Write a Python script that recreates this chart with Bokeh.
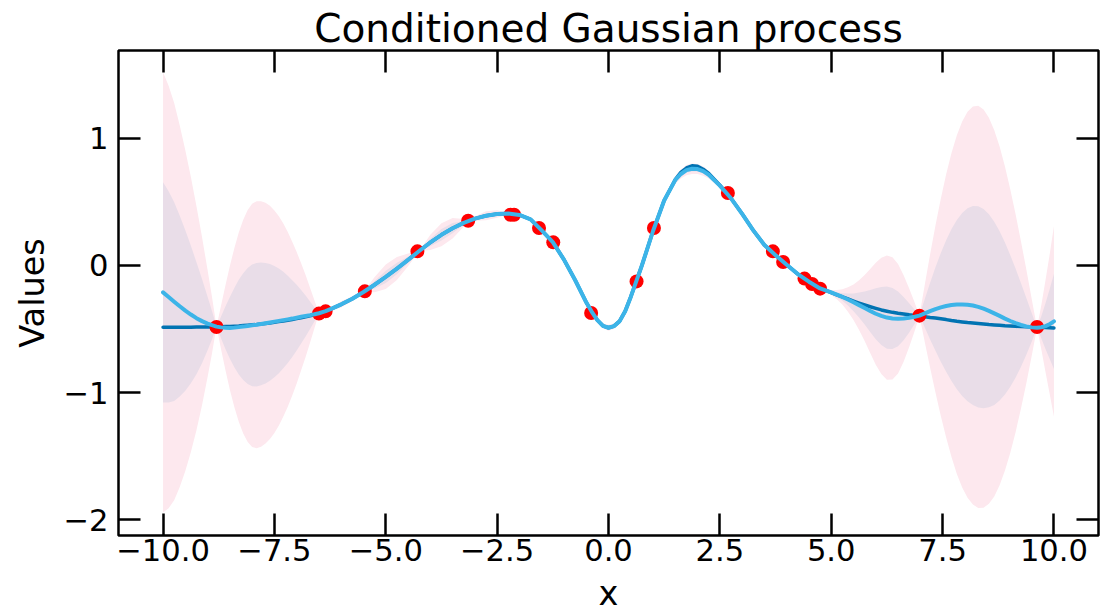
import numpy as np
from bokeh.plotting import figure
from bokeh.models import Range1d, FixedTicker, LinearAxis, CustomJSTickFormatter
from bokeh.embed import file_html
from bokeh.resources import INLINE

# ---- observations (red dots) ----
obs_x = [-8.80, -6.50, -6.35, -5.47, -4.29, -3.15, -2.20, -2.12, -1.56, -1.24,
         -0.39, 0.63, 1.02, 2.68, 3.69, 3.92, 4.40, 4.57, 4.75, 6.98, 9.62]
obs_y = [-0.484, -0.379, -0.361, -0.204, 0.110, 0.351, 0.398, 0.398, 0.294, 0.181,
         -0.374, -0.126, 0.294, 0.568, 0.110, 0.027, -0.104, -0.146, -0.183, -0.395, -0.484]

# ---- curves on a grid (one row per stretch of x) ----
grid_x = [-10.0, -9.875, -9.75, -9.625, -9.5, -9.375, -9.25, -9.125, -9.0, -8.9, -8.8,
          -8.7, -8.6, -8.5, -8.4, -8.3, -8.2, -8.1, -8.0, -7.9, -7.8, -7.7, -7.6, -7.5, -7.4,
          -7.3, -7.2, -7.1, -7.0, -6.9, -6.8, -6.7, -6.6, -6.5,
          -6.35, -6.2, -6.0, -5.75, -5.5, -5.25, -5.0, -4.75, -4.5, -4.25, -4.0, -3.75,
          -3.5, -3.25, -3.0, -2.75, -2.5, -2.25, -2.0, -1.75, -1.5, -1.25, -1.0, -0.75,
          -0.5, -0.375, -0.25, -0.125, 0.0, 0.125, 0.25, 0.375, 0.5,
          0.75, 1.0, 1.25, 1.5, 1.625, 1.75, 1.875, 2.0, 2.125, 2.25, 2.5, 2.75, 3.0, 3.25,
          3.5, 3.75, 4.0, 4.25, 4.5,
          4.75, 4.875, 5.0, 5.125, 5.25, 5.375, 5.5, 5.625, 5.75, 5.875, 6.0, 6.125, 6.25,
          6.375, 6.5, 6.625, 6.75, 6.875,
          6.98, 7.10, 7.22, 7.34, 7.46, 7.58, 7.70, 7.82, 7.94, 8.06, 8.18, 8.30, 8.42,
          8.54, 8.66, 8.78, 8.90, 9.02, 9.14, 9.26, 9.38, 9.50,
          9.62, 9.72, 9.81, 9.90, 10.0]

# posterior mean (light blue line)
post_mean = [-0.212, -0.248, -0.285, -0.321, -0.355, -0.386, -0.415, -0.438, -0.457, -0.470, -0.481,
             -0.487, -0.490, -0.491, -0.489, -0.485, -0.481, -0.476, -0.471, -0.466, -0.460, -0.454, -0.448, -0.442, -0.436,
             -0.430, -0.424, -0.418, -0.411, -0.404, -0.397, -0.391, -0.384, -0.376,
             -0.360, -0.338, -0.306, -0.262, -0.209, -0.152, -0.090, -0.025, 0.043, 0.113, 0.180, 0.240,
             0.292, 0.334, 0.367, 0.390, 0.404, 0.408, 0.396, 0.362, 0.275, 0.183, 0.045, -0.115,
             -0.290, -0.365, -0.430, -0.475, -0.490, -0.477, -0.438, -0.360, -0.248,
             0.000, 0.270, 0.510, 0.672, 0.718, 0.748, 0.759, 0.757, 0.740, 0.712, 0.627, 0.527, 0.405, 0.275,
             0.160, 0.080, 0.005, -0.068, -0.128,
             -0.181, -0.197, -0.213, -0.230, -0.248, -0.268, -0.290, -0.312, -0.335, -0.358, -0.380, -0.397, -0.410,
             -0.417, -0.420, -0.418, -0.412, -0.404,
             -0.395, -0.377, -0.359, -0.343, -0.330, -0.319, -0.312, -0.308, -0.307, -0.309, -0.315, -0.326, -0.340,
             -0.357, -0.377, -0.397, -0.418, -0.437, -0.454, -0.468, -0.479, -0.487,
             -0.490, -0.486, -0.477, -0.462, -0.440]

# underlying function (dark blue line)
true_f = [-0.487, -0.487, -0.487, -0.486, -0.486, -0.486, -0.485, -0.485, -0.484, -0.484, -0.483,
          -0.482, -0.481, -0.480, -0.478, -0.476, -0.473, -0.470, -0.467, -0.464, -0.460, -0.456, -0.452, -0.447, -0.442,
          -0.437, -0.431, -0.425, -0.418, -0.411, -0.404, -0.396, -0.388, -0.378,
          -0.361, -0.338, -0.306, -0.262, -0.209, -0.152, -0.090, -0.025, 0.043, 0.113, 0.180, 0.240,
          0.292, 0.334, 0.367, 0.390, 0.404, 0.408, 0.396, 0.362, 0.275, 0.183, 0.045, -0.115,
          -0.290, -0.365, -0.430, -0.475, -0.490, -0.477, -0.438, -0.360, -0.248,
          0.000, 0.270, 0.510, 0.674, 0.730, 0.765, 0.782, 0.778, 0.755, 0.722, 0.630, 0.527, 0.405, 0.275,
          0.160, 0.080, 0.005, -0.068, -0.128,
          -0.181, -0.197, -0.214, -0.231, -0.247, -0.264, -0.280, -0.296, -0.311, -0.325, -0.338, -0.350, -0.360,
          -0.369, -0.376, -0.382, -0.388, -0.393,
          -0.397, -0.403, -0.409, -0.414, -0.420, -0.426, -0.433, -0.439, -0.444, -0.449, -0.453, -0.457, -0.461,
          -0.465, -0.468, -0.471, -0.474, -0.476, -0.478, -0.481, -0.483, -0.485,
          -0.487, -0.488, -0.489, -0.490, -0.492]

# posterior standard deviation (band half-widths: 1 and 2 of these)
post_std = [0.865, 0.83, 0.78, 0.71, 0.63, 0.54, 0.44, 0.33, 0.21, 0.11, 0.0,
            0.084, 0.166, 0.243, 0.312, 0.372, 0.420, 0.456, 0.478, 0.485, 0.482, 0.473, 0.458, 0.437, 0.411,
            0.379, 0.343, 0.302, 0.258, 0.210, 0.161, 0.108, 0.054, 0.0,
            0.0, 0.006, 0.012, 0.010, 0.0, 0.030, 0.048, 0.045, 0.025, 0.0, 0.030, 0.045,
            0.040, 0.015, 0.008, 0.018, 0.015, 0.003, 0.002, 0.004, 0.002, 0.0, 0.008, 0.010,
            0.005, 0.005, 0.006, 0.009, 0.012, 0.010, 0.008, 0.006, 0.004,
            0.003, 0.0, 0.008, 0.015, 0.018, 0.020, 0.021, 0.020, 0.018, 0.015, 0.008, 0.0, 0.005, 0.008,
            0.005, 0.0, 0.0, 0.002, 0.0,
            0.0, 0.004, 0.010, 0.018, 0.030, 0.048, 0.070, 0.098, 0.130, 0.165, 0.200, 0.228, 0.244,
            0.240, 0.215, 0.170, 0.115, 0.055,
            0.0, 0.112, 0.223, 0.328, 0.427, 0.517, 0.597, 0.665, 0.719, 0.758, 0.782, 0.790, 0.782,
            0.758, 0.719, 0.665, 0.597, 0.517, 0.427, 0.328, 0.223, 0.112,
            0.0, 0.09, 0.18, 0.27, 0.375]

assert len(grid_x) == len(post_mean) == len(true_f) == len(post_std)

x_ticks = [-10, -7.5, -5, -2.5, 0, 2.5, 5, 7.5, 10]
x_tick_labels = ["\u221210.0", "\u22127.5", "\u22125.0", "\u22122.5", "0.0", "2.5", "5.0", "7.5", "10.0"]
y_ticks = [-2, -1, 0, 1]
y_tick_labels = ["\u22122", "\u22121", "0", "1"]

FONT = "DejaVu Sans"

m = np.array(post_mean)
s = np.array(post_std)

p = figure(width=1109, height=615,
           x_range=Range1d(-11, 11), y_range=Range1d(-2.122, 1.688),
           output_backend="svg", toolbar_location=None,
           min_border_left=118, min_border_right=11,
           min_border_top=50, min_border_bottom=79,
           title="Conditioned Gaussian process")

p.background_fill_color = "white"
p.border_fill_color = "white"
p.outline_line_color = "black"
p.outline_line_width = 2.5
p.xgrid.visible = False
p.ygrid.visible = False

p.title.text_font = FONT
p.title.text_font_size = "39px"
p.title.text_font_style = "normal"
p.title.text_color = "black"
p.title.align = "center"
p.title.standoff = 0


def label_formatter(vals, labels):
    return CustomJSTickFormatter(args=dict(tick_vals=vals, tick_texts=labels),
                                 code="const i = tick_vals.indexOf(tick); return i >= 0 ? tick_texts[i] : '';")


def style_axis(ax, vals, labels, show_labels):
    ax.ticker = FixedTicker(ticks=vals)
    ax.minor_tick_line_color = None
    ax.major_tick_in = 22
    ax.major_tick_out = 0
    ax.major_tick_line_width = 2.5
    ax.major_tick_line_color = "black"
    ax.axis_line_color = None
    if show_labels:
        ax.formatter = label_formatter(vals, labels)
        ax.major_label_text_font = FONT
        ax.major_label_text_font_size = "30.6px"
        ax.major_label_text_color = "black"
        ax.axis_label_text_font = FONT
        ax.axis_label_text_font_size = "33.5px"
        ax.axis_label_text_font_style = "normal"
        ax.axis_label_text_color = "black"
    else:
        ax.formatter = label_formatter(vals, ["" for _ in labels])
        ax.major_label_text_font_size = "1px"
        ax.major_label_standoff = 0


xb = p.xaxis[0]
yl = p.yaxis[0]
style_axis(xb, x_ticks, x_tick_labels, True)
style_axis(yl, y_ticks, y_tick_labels, True)
xb.axis_label = "x"
yl.axis_label = "Values"
xb.major_label_standoff = 3
xb.axis_label_standoff = 10
yl.major_label_standoff = 10
yl.axis_label_standoff = 8

xt = LinearAxis()
style_axis(xt, x_ticks, x_tick_labels, False)
p.add_layout(xt, "above")
yr = LinearAxis()
style_axis(yr, y_ticks, y_tick_labels, False)
p.add_layout(yr, "right")

# uncertainty bands (mean +/- 2 std, mean +/- 1 std)
p.varea(x=grid_x, y1=list(m - 2 * s), y2=list(m + 2 * s), fill_color="#fde8ee", fill_alpha=1.0)
p.varea(x=grid_x, y1=list(m - s), y2=list(m + s), fill_color="#e9dde8", fill_alpha=1.0)

# lines and observations
p.line(grid_x, true_f, line_color="#0173b2", line_width=3.5, line_join="round", line_cap="round")
p.scatter(obs_x, obs_y, size=14, fill_color="#ff0000", line_color=None)
p.line(grid_x, post_mean, line_color="#3cb4e8", line_width=4, line_join="round", line_cap="round")

open("out.html", "w").write(file_html(p, INLINE))
